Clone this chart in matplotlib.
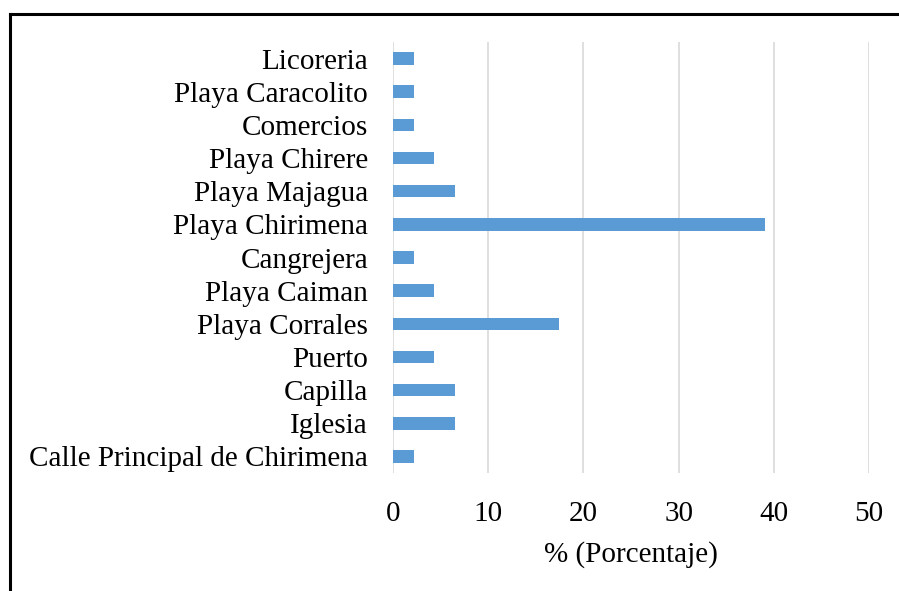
import matplotlib.pyplot as plt
from matplotlib.lines import Line2D

# -----------------------------
# Data
# -----------------------------
lugares = ["Calle Principal de Chirimena", "Iglesia", "Capilla", "Puerto",
           "Playa Corrales", "Playa Caiman", "Cangrejera", "Playa Chirimena",
           "Playa Majagua", "Playa Chirere", "Comercios", "Playa Caracolito",
           "Licoreria"]
porcentaje = [2.2, 6.5, 6.5, 4.3, 17.4, 4.3, 2.2, 39.1, 6.5, 4.3, 2.2, 2.2, 2.2]
xticks = [0, 10, 20, 30, 40, 50]

plt.rcParams['font.family'] = ['Liberation Serif', 'DejaVu Serif']

fig = plt.figure(figsize=(8.99, 5.91), dpi=100)
ax = fig.add_axes([393/899, 1 - 473/591, (869 - 393)/899, (473 - 42)/591])

ax.barh(range(len(lugares)), porcentaje, height=0.38, color='#5b9bd5', zorder=3)
ax.set_yticks(range(len(lugares)))
ax.set_yticklabels(lugares, fontsize=21)
ax.set_ylim(-0.5, len(lugares) - 0.5)
ax.set_xlim(0, 50)
ax.set_xticks(xticks)
ax.set_xticklabels([str(t) for t in xticks], fontsize=21)
ax.set_xlabel("% (Porcentaje)", fontsize=21, labelpad=10)

ax.grid(axis='x', color='#d9d9d9', linewidth=1.2, zorder=0)
for s in ax.spines.values():
    s.set_visible(False)
ax.tick_params(axis='both', length=0)
ax.tick_params(axis='y', pad=18)
ax.tick_params(axis='x', pad=20)

# frame lines (top and left only visible in the reference)
fig.add_artist(Line2D([9.5/899, 1], [1 - 13.5/591] * 2, color='black', lw=2.2,
                      transform=fig.transFigure))
fig.add_artist(Line2D([9.5/899] * 2, [0, 1 - 13.5/591], color='black', lw=2.2,
                      transform=fig.transFigure))

plt.savefig("out.png", dpi=100)
plt.close()
